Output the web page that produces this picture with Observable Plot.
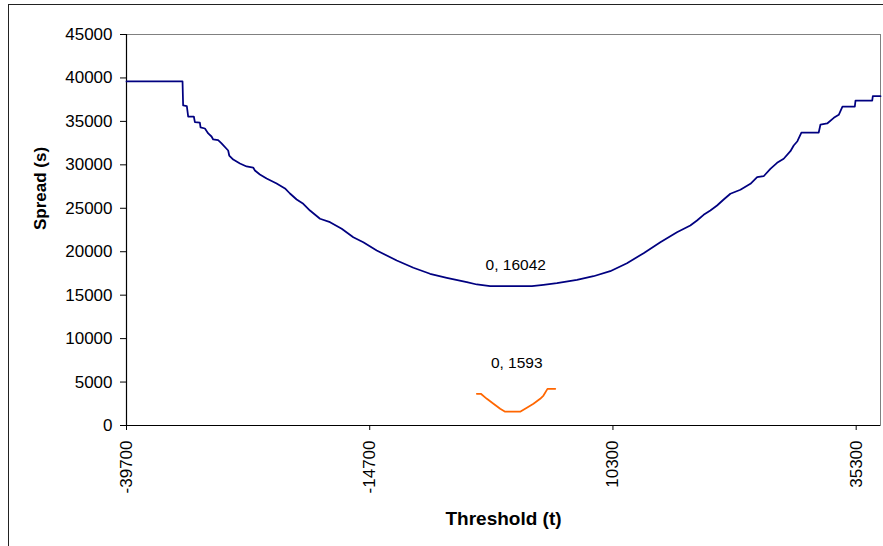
<!DOCTYPE html>
<html><head><meta charset="utf-8">
<script src="https://cdn.jsdelivr.net/npm/d3@7"></script>
<script src="https://cdn.jsdelivr.net/npm/@observablehq/plot@0.6"></script>
<style>
body{margin:0;background:#fff;overflow:hidden;}
#wrap{position:relative;width:883px;height:546px;overflow:hidden;background:#fff;}
#border{position:absolute;left:8px;top:4px;width:900px;height:600px;border-left:1.5px solid #222;border-top:1.5px solid #222;}
#wrap svg{position:absolute;left:0;top:0;}
</style></head><body><div id="wrap"><div id="border"></div></div>
<script>
const xTicks = [-39700, -14700, 10300, 35300];
const yTicks = [0, 5000, 10000, 15000, 20000, 25000, 30000, 35000, 40000, 45000];

const blueX = [-39700,-33940,-33880,-33500,-33360,-32780,-32670,-32160,-32090,-31640,-31300,-30960,-30790,-30280,-29930,-29250,-29140,-28730,-28040,-27360,-26680,-26500,-25990,-25300,-24270,-23410,-22900,-22210,-21530,-20840,-19810,-18780,-17580,-16390,-15360,-13980,-11920,-10210,-8500,-6780,-4720,-3690,-2320,1970,3160,4540,6600,8300,10020,11740,13450,15170,16880,18250,18940,19620,20310,21000,21680,22370,23400,24430,25120,25790,26480,27170,27850,28540,28880,29260,29670,31450,31630,32320,33000,33510,33890,35160,35230,36950,37010,37800];
const blueY = [39600,39600,36830,36770,35560,35560,34910,34870,34300,34180,33610,33260,32920,32840,32460,31650,31070,30610,30150,29810,29690,29350,28890,28430,27850,27280,26700,26010,25520,24740,23790,23400,22640,21670,21100,20140,18990,18150,17460,17000,16490,16230,16042,16042,16190,16380,16770,17180,17760,18680,19830,21100,22250,23020,23590,24250,24740,25320,26010,26670,27130,27820,28580,28690,29540,30230,30700,31570,32230,32720,33720,33720,34640,34760,35410,35760,36710,36710,37400,37400,37900,37900];

const orangeX = [-3690,-3280,-2660,-1980,-1290,-780,760,1450,2130,2820,3160,3570,4370];
const orangeY = [3650,3650,3070,2500,1920,1593,1593,2040,2500,3070,3450,4220,4220];

const blueLabel = {x: 0, y: 16042, text: "0, 16042"};
const orangeLabel = {x: 0, y: 1593, text: "0, 1593"};

const blue = blueX.map((x, i) => ({x, y: blueY[i]}));
const orange = orangeX.map((x, i) => ({x, y: orangeY[i]}));

const chart = Plot.plot({
  width: 883, height: 546,
  marginLeft: 126, marginRight: 3, marginTop: 34, marginBottom: 121,
  style: {fontFamily: "'Liberation Sans', Arial, sans-serif", background: "transparent", color: "#000"},
  x: {domain: [-39700, 37800]},
  y: {domain: [0, 45000]},
  marks: [
    Plot.frame({stroke: "#808080"}),
    Plot.ruleY([0], {stroke: "#000", strokeWidth: 1.2}),
    Plot.ruleX([-39700], {stroke: "#000", strokeWidth: 1.2}),
    Plot.axisY(yTicks, {tickSize: 6, tickPadding: 8, tickFormat: d => String(d), fontSize: 17, label: null}),
    Plot.axisX(xTicks, {tickSize: 5, tickRotate: -90, tickPadding: 10, tickFormat: d => String(d), fontSize: 17, label: null}),
    Plot.line(blue, {x: "x", y: "y", stroke: "#000080", strokeWidth: 1.75}),
    Plot.line(orange, {x: "x", y: "y", stroke: "#ff6600", strokeWidth: 1.75}),
    Plot.text([blueLabel], {x: "x", y: "y", text: "text", dy: -21, dx: 3, fontSize: 15.5}),
    Plot.text([orangeLabel], {x: "x", y: "y", text: "text", dy: -49, dx: 4, fontSize: 15.5}),
    Plot.text(["Threshold (t)"], {frameAnchor: "bottom", text: d => d, dy: 93, lineAnchor: "middle", fontWeight: "bold", fontSize: 19}),
    Plot.text(["Spread (s)"], {frameAnchor: "left", text: d => d, dx: -86, rotate: -90, lineAnchor: "middle", fontWeight: "bold", fontSize: 17})
  ]
});
document.getElementById("wrap").appendChild(chart);
</script>
</body></html>
